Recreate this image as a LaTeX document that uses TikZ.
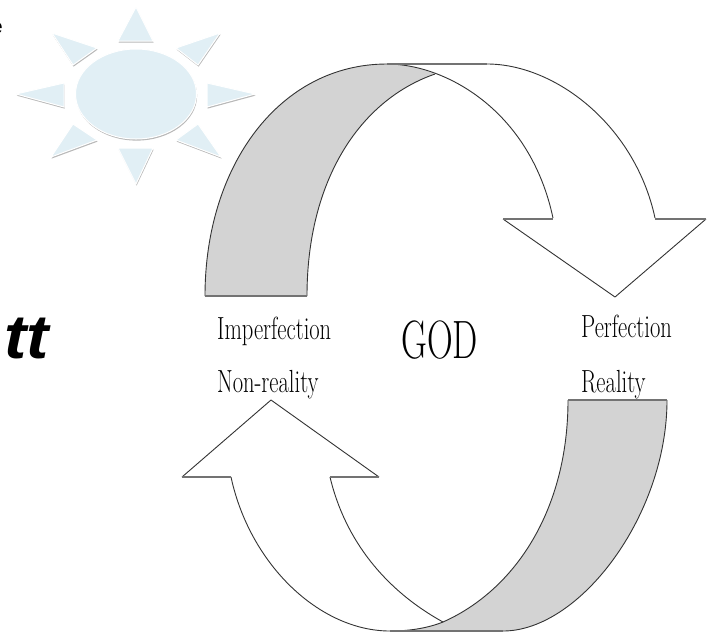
\documentclass[tikz,border=0pt]{standalone}
\usepackage{fontspec}
\newfontfamily\cutfont{Liberation Sans}
\usetikzlibrary{shadows,calc}
\definecolor{sunblue}{HTML}{E1EFF5}
\definecolor{bandgray}{HTML}{D3D3D3}
\tikzset{
    sunpart/.style={fill=sunblue,draw=white,line width=1pt,line join=miter,
        drop shadow={shadow xshift=0.6pt,shadow yshift=-1.6pt,fill=black,opacity=0.28}},
    curveline/.style={draw=black!80,line width=0.9pt,line join=round},
    flatline/.style={draw=black!55,line width=1.6pt},
    thinlabel/.style={inner sep=0pt,anchor=base west,font=\fontsize{32}{32}\selectfont,xscale=0.705},
}
\begin{document}
\begin{tikzpicture}[x=1pt,y=-1pt]
    \useasboundingbox (0,0) rectangle (708,633);
    \fill[white] (0,0) rectangle (708,633);

    % Sun
    \foreach \ax/\ay/\bx/\by/\cx/\cy in {136/7/118/41/153/41, 220/33/176/48/198/65,
        255/94/207/83/207/107, 221/157/176/140/198/124, 136/184/118/148/153/148,
        51/157/97/140/73/124, 16/94/64/83/64/107, 52/33/97/48/73/65} {
        \path[sunpart] (\ax,\ay) -- (\bx,\by) -- (\cx,\cy) -- cycle;
    }
    \path[sunpart] (136,94) ellipse (60.5 and 45);

    % Upper arrow
    \fill[bandgray] (205,296) .. controls (205,165) and (280,64) .. (387,64)
        .. controls (405,64) and (420,68) .. (435,74)
        .. controls (360,100) and (307,180) .. (307,296) -- cycle;
    \draw[curveline] (205,296) .. controls (205,165) and (280,64) .. (387,64)
        .. controls (445,64) and (530,110) .. (553,218);
    \draw[curveline] (307,296) .. controls (307,180) and (360,100) .. (435,74);
    \draw[curveline] (487,64) .. controls (555,64) and (635,125) .. (655,218);
    \draw[curveline] (706,219) -- (615,297) -- (503,219);
    \draw[flatline] (205,296) -- (307,296);
    \draw[flatline] (387,64) -- (487,64);
    \draw[flatline] (503,219) -- (553,219);
    \draw[flatline] (655,219) -- (706,219);

    % Lower arrow
    \fill[bandgray] (667,400) .. controls (667,515) and (580,631) .. (503,631)
        -- (390,631) .. controls (410,631) and (428,628) .. (443,622)
        .. controls (515,590) and (568,510) .. (568,400) -- cycle;
    \draw[curveline] (667,400) .. controls (667,515) and (580,631) .. (503,631);
    \draw[curveline] (568,400) .. controls (568,510) and (515,590) .. (443,622)
        .. controls (428,628) and (410,631) .. (390,631)
        .. controls (320,631) and (250,565) .. (231,477);
    \draw[curveline] (443,622) .. controls (385,590) and (345,540) .. (330,477);
    \draw[curveline] (182,477) -- (271,400) -- (379,477);
    \draw[flatline] (568,400) -- (667,400);
    \draw[flatline] (390,631) -- (503,631);
    \draw[flatline] (182,477) -- (231,477);
    \draw[flatline] (330,477) -- (379,477);

    % Labels
    \node[thinlabel] (imperfection) at (217,339) {Imperfection};
    \node[thinlabel] (nonreality) at (217,392) {Non-reality};
    \node[thinlabel] (perfection) at (581,337) {Perfection};
    \node[thinlabel] (reality) at (581,392) {Reality};
    \node[inner sep=0pt,anchor=base west,font=\fontsize{54}{54}\selectfont,xscale=0.66] (god) at (401,358) {GOD};
    \node[inner sep=0pt,anchor=base west,font=\cutfont\bfseries\itshape\fontsize{62}{62}\selectfont,xscale=1.08] (cuttext) at (4,358) {tt};
    \node[inner sep=0pt,anchor=base east,font=\cutfont\fontsize{20}{20}\selectfont] (cutletter) at (3,33) {e};
\end{tikzpicture}
\end{document}
